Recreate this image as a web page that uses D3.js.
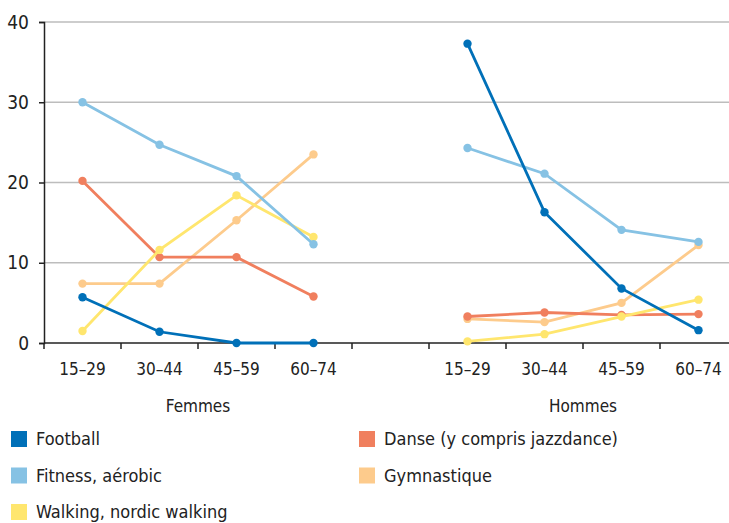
<!DOCTYPE html>
<html>
  <head>
    <meta charset="utf-8">
    <title>Sports par âge</title>
    <script type="text/javascript" src="https://d3js.org/d3.v7.min.js"></script>
    <style>
      body { margin: 0; background: #fff; }
      svg text { font-family: "Liberation Sans Narrow", "DejaVu Sans Condensed", sans-serif; fill: #222; }
    </style>
  </head>
  <body>
    <script type="text/javascript">

      var ages = ["15–29", "30–44", "45–59", "60–74"];
      var groups = ["Femmes", "Hommes"];
      var yTicks = [0, 10, 20, 30, 40];

      // values per sport: Femmes then Hommes
      var football = [[5.7, 1.4, 0, 0], [37.3, 16.3, 6.8, 1.6]];
      var danse = [[20.2, 10.7, 10.7, 5.8], [3.3, 3.8, 3.5, 3.6]];
      var fitness = [[30.0, 24.7, 20.8, 12.3], [24.3, 21.1, 14.1, 12.6]];
      var gymnastique = [[7.4, 7.4, 15.3, 23.5], [3.0, 2.6, 5.0, 12.2]];
      var walking = [[1.5, 11.6, 18.4, 13.2], [0.2, 1.1, 3.3, 5.4]];

      var series = [
        {name: "Football", values: football, color: "#0070b8"},
        {name: "Danse (y compris jazzdance)", values: danse, color: "#f07f5e"},
        {name: "Fitness, aérobic", values: fitness, color: "#86c2e4"},
        {name: "Gymnastique", values: gymnastique, color: "#fdcb8c"},
        {name: "Walking, nordic walking", values: walking, color: "#ffe66e"}
      ];
      // drawing order (bottom to top)
      var drawOrder = ["Gymnastique", "Danse (y compris jazzdance)", "Walking, nordic walking", "Fitness, aérobic", "Football"];

      var width = 729, height = 523;
      var marginLeft = 44, plotTop = 22, plotBottom = 343;

      // 4 bands Femmes, one empty band, 4 bands Hommes
      var slots = [];
      groups.forEach(function(g, gi) {
        ages.forEach(function(a) { slots.push(g + "|" + a); });
        if (gi == 0) slots.push("gap");
      });

      var x = d3.scaleBand().domain(slots).range([marginLeft, marginLeft + 77 * slots.length]);
      var y = d3.scaleLinear().domain([0, 40]).range([plotBottom, plotTop]);

      var svg = d3.select("body").append("svg")
          .attr("width", width)
          .attr("height", height);

      // grid
      svg.append("g").selectAll("line")
        .data(yTicks.filter(function(d) { return d > 0; }))
        .enter().append("line")
          .attr("x1", marginLeft).attr("x2", width)
          .attr("y1", function(d) { return y(d); })
          .attr("y2", function(d) { return y(d); })
          .attr("stroke", "#bdbdbd")
          .attr("stroke-width", 1.5);

      // y axis
      var yAxis = svg.append("g")
          .attr("transform", "translate(" + marginLeft + ",0)")
          .call(d3.axisLeft(y).tickValues(yTicks).tickSize(5).tickPadding(10));
      yAxis.select(".domain").attr("stroke", "#222").attr("stroke-width", 1.5);
      yAxis.selectAll(".tick line").attr("stroke", "#222").attr("stroke-width", 1.5);
      yAxis.selectAll("text").style("font-size", "19px").attr("fill", "#222");

      // x axis, ticks on band edges
      var xAxis = svg.append("g")
          .attr("transform", "translate(0," + plotBottom + ")");
      xAxis.append("line")
          .attr("x1", marginLeft).attr("x2", x.range()[1])
          .attr("stroke", "#222").attr("stroke-width", 1.5);
      xAxis.selectAll(".tk")
        .data(slots.concat(["end"]))
        .enter().append("line")
          .attr("class", "tk")
          .attr("x1", function(d, i) { return marginLeft + i * x.step(); })
          .attr("x2", function(d, i) { return marginLeft + i * x.step(); })
          .attr("y1", 0).attr("y2", 6)
          .attr("stroke", "#222").attr("stroke-width", 1.5);
      xAxis.selectAll(".lbl")
        .data(slots.filter(function(d) { return d != "gap"; }))
        .enter().append("text")
          .attr("class", "lbl")
          .attr("x", function(d) { return x(d) + x.bandwidth() / 2; })
          .attr("y", 32)
          .attr("text-anchor", "middle")
          .style("font-size", "17px")
          .text(function(d) { return d.split("|")[1]; });
      xAxis.selectAll(".grp")
        .data(groups)
        .enter().append("text")
          .attr("class", "grp")
          .attr("x", function(g) {
            return (x(g + "|" + ages[0]) + x(g + "|" + ages[ages.length - 1]) + x.bandwidth()) / 2;
          })
          .attr("y", 69)
          .attr("text-anchor", "middle")
          .style("font-size", "17px")
          .text(function(d) { return d; });

      // lines and points
      var line = d3.line()
          .x(function(d) { return x(d.key) + x.bandwidth() / 2; })
          .y(function(d) { return y(d.v); });

      drawOrder.forEach(function(name) {
        var s = series.find(function(s) { return s.name == name; });
        var g = svg.append("g");
        groups.forEach(function(grp, gi) {
          var pts = s.values[gi].map(function(v, i) { return {key: grp + "|" + ages[i], v: v}; });
          g.append("path")
              .attr("d", line(pts))
              .attr("fill", "none")
              .attr("stroke", s.color)
              .attr("stroke-width", 2.8);
          g.selectAll(null)
            .data(pts)
            .enter().append("circle")
              .attr("cx", function(d) { return x(d.key) + x.bandwidth() / 2; })
              .attr("cy", function(d) { return y(d.v); })
              .attr("r", 4.2)
              .attr("fill", s.color);
        });
      });

      // legend
      var legend = svg.append("g");
      var item = legend.selectAll("g")
        .data(series)
        .enter().append("g")
          .attr("transform", function(d, i) {
            return "translate(" + (i % 2 == 0 ? 11 : 359) + "," + (431 + Math.floor(i / 2) * 36.5) + ")";
          });
      item.append("rect")
          .attr("width", 16).attr("height", 16)
          .attr("fill", function(d) { return d.color; });
      item.append("text")
          .attr("x", 25).attr("y", 14)
          .style("font-size", "18px")
          .text(function(d) { return d.name; });

    </script>
  </body>
</html>
